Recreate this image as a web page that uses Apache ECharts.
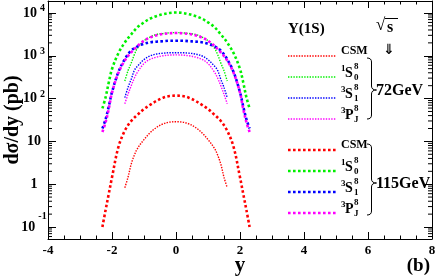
<!DOCTYPE html>
<html><head><meta charset="utf-8">
<script src="https://cdn.jsdelivr.net/npm/echarts@6/dist/echarts.min.js"></script>
<style>html,body{margin:0;padding:0;background:#fff}#c{width:436px;height:278px}</style>
</head><body><div id="c"></div>
<script>
// ---- data ----
const rapidity115 = [-2.3,-2.2,-2.1,-2.0,-1.8,-1.6,-1.4,-1.2,-1.0,-0.8,-0.6,-0.4,-0.2,0,0.2,0.4,0.6,0.8,1.0,1.2,1.4,1.6,1.8,2.0,2.1,2.2,2.3];
const rapidity72  = [-1.6,-1.5,-1.4,-1.3,-1.2,-1.0,-0.8,-0.6,-0.4,-0.2,0,0.2,0.4,0.6,0.8,1.0,1.2,1.3,1.4,1.5,1.6];

const csm115 = [0.10,0.25,0.6,1.45,7.4,17.8,30,42,57,72,89,105,115,117,115,105,89,72,57,42,30,17.8,7.4,1.45,0.6,0.25,0.10];
const s0_115 = [59,107,240,490,1150,2040,3160,4680,6030,7410,8510,9330,10000,10230,10000,9330,8510,7410,6030,4680,3160,2040,1150,490,240,107,59];
const s1_115 = [20,33,66,141,417,830,1320,1660,1900,2070,2140,2190,2240,2240,2240,2190,2140,2070,1900,1660,1320,830,417,141,66,33,20];
const pj_115 = [16.6,28,58,138,400,776,1200,1700,2240,2690,3020,3240,3350,3390,3350,3240,3020,2690,2240,1700,1200,776,400,138,58,28,16.6];

const csm72 = [0.83,1.45,2.95,4.8,6.9,11,16.2,21.4,25.7,28.2,28.8,28.2,25.7,21.4,16.2,11,6.9,4.8,2.95,1.45,0.83];
const s0_72 = [257,447,676,1070,1510,2240,2750,3160,3310,3430,3470,3430,3310,3160,2750,2240,1510,1070,676,447,257];
const s1_72 = [105,182,282,457,575,813,1000,1100,1150,1175,1175,1175,1150,1100,1000,813,575,457,282,182,105];
const pj_72 = [76,126,200,302,417,660,832,933,1000,1035,1047,1035,1000,933,832,660,417,302,200,126,76];

const xTicks = [-4,-2,0,2,4,6,8];
const yDecades = [-1,0,1,2,3,4];
const channels = ['CSM','1S0','3S1','3PJ'];
const energies = ['72GeV','115GeV'];
// --------------------------------------

const FONT = '"Liberation Serif", "DejaVu Serif", serif';
const COLORS = {CSM:'#ff0000','1S0':'#00f000','3S1':'#0000ff','3PJ':'#ff00ff'};
const THIN = {width:1.4, type:[1.4,1.3], cap:'butt'};
const THICK = {width:2.6, type:[2.6,2.4], cap:'butt'};
const XMIN = xTicks[0], XMAX = xTicks[xTicks.length-1];
const YMIN = 0.0525, YMAX = 19000;

function zip(xs, ys){ return xs.map((x,i)=>[x, ys[i]]); }

const seriesDefs = [
  ['CSM 72', csm72, rapidity72, 'CSM', THIN],
  ['1S0 72', s0_72, rapidity72, '1S0', THIN],
  ['3S1 72', s1_72, rapidity72, '3S1', THIN],
  ['3PJ 72', pj_72, rapidity72, '3PJ', THIN],
  ['CSM 115', csm115, rapidity115, 'CSM', THICK],
  ['1S0 115', s0_115, rapidity115, '1S0', THICK],
  ['3S1 115', s1_115, rapidity115, '3S1', THICK],
  ['3PJ 115', pj_115, rapidity115, '3PJ', THICK]
];

const minorVals = [];
for (let n = -2; n <= 4; n++) for (let k = 2; k <= 9; k++) {
  const v = k * Math.pow(10, n);
  if (v > YMIN && v < YMAX) minorVals.push([XMIN, v]);
}

const series = seriesDefs.map(([name, vals, xs, ch, st]) => ({
  name, type:'line', data: zip(xs, vals), showSymbol:false, smooth:0.35,
  silent:true, animation:false,
  lineStyle:{color:COLORS[ch], width:st.width, type:st.type, cap:st.cap}
}));
series.push({
  type:'custom', silent:true, animation:false, clip:false,
  data: minorVals,
  renderItem:(params, api)=>{
    const v = api.value(1);
    const l = api.coord([XMIN, v]), r = api.coord([XMAX, v]);
    return {type:'group', children:[
      {type:'line', shape:{x1:l[0], y1:l[1], x2:l[0]+4, y2:l[1]}, style:{stroke:'#000', lineWidth:1}},
      {type:'line', shape:{x1:r[0], y1:r[1], x2:r[0]-4, y2:r[1]}, style:{stroke:'#000', lineWidth:1}}
    ]};
  }
});

function T(x, y, text, size, align, family){
  return {type:'text', x, y, silent:true,
    style:{text, font:`bold ${size}px ${family||FONT}`, fill:'#000', align:align||'left', verticalAlign:'middle'}};
}
function L(x1,y1,x2,y2,color,st){
  return {type:'line', silent:true, shape:{x1,y1,x2,y2},
    style:{stroke:color, lineWidth:st.width, lineDash:st.type, lineCap:st.cap}};
}
function Q(x1,y1,cx,cy,x2,y2){
  return {type:'bezierCurve', silent:true, shape:{x1,y1,x2,y2,cpx1:cx,cpy1:cy},
    style:{stroke:'#000', fill:null, lineWidth:1}};
}
function brace(top, tip, bot){
  const x0=367, x1=371.5, x2=376.5;
  const plain = {width:1, type:'solid', cap:'butt'};
  return [
    Q(x0,top, x1,top, x1,top+4),
    L(x1,top+4, x1,tip-4,'#000',plain),
    Q(x1,tip-4, x1,tip, x2,tip),
    Q(x2,tip, x1,tip, x1,tip+4),
    L(x1,tip+4, x1,bot-4,'#000',plain),
    Q(x1,bot-4, x1,bot, x0,bot)
  ];
}
function legendGroup(lineYs, st, braceTop, braceTip, braceBot, energy){
  const els = [];
  channels.forEach((ch, i) => {
    const ly = lineYs[i];
    els.push(L(288, ly, 336, ly, COLORS[ch], st));
    if (ch === 'CSM') {
      els.push(T(341, ly-5, 'CSM', 12));
    } else {
      els.push(T(341, ly-8, ch[0], 9));
      els.push(T(345, ly-3.5, ch[1], 14));
      els.push(T(354, ly-10.5, '8', 9));
      els.push(T(354, ly+1, ch[2], 9));
    }
  });
  return els.concat(brace(braceTop, braceTip, braceBot), [T(376, braceTip+1, energy, 16)]);
}

const graphics = [].concat(
  [T(288, 29, 'Υ(1S)', 15),
   T(376, 26, '√', 17),
   T(387, 28, 's', 16),
   {type:'line', silent:true, shape:{x1:385, y1:18.5, x2:398, y2:18.5}, style:{stroke:'#000', lineWidth:1}},
   T(389, 50, '⇓', 14, 'center', '"DejaVu Sans"'),
   T(430, 266, '(b)', 19, 'right')],
  legendGroup([56,77,98,119], THIN, 58, 90, 119, energies[0]),
  legendGroup([150,171,192,213], THICK, 144, 183, 215, energies[1])
);

const yLabel = v => {
  const lg = Math.log10(v), n = Math.round(lg);
  if (!yDecades.includes(n) || Math.abs(lg - n) > 1e-6) return '';
  if (n === 0) return '{b|1}';
  if (n === 1) return '{b|10}';
  if (n < 0) return '{b|10}{m|' + n + '}';
  return '{b|10}{s|' + n + '}';
};

const chart = echarts.init(document.getElementById('c'), null, {renderer:'canvas'});
chart.setOption({
  animation:false,
  backgroundColor:'#fff',
  grid:{left:48, right:4, top:1, bottom:39, containLabel:false, outerBoundsMode:'none'},
  xAxis:[{
    type:'value', min:XMIN, max:XMAX, interval:2, position:'bottom',
    name:'y', nameLocation:'middle', nameGap:16, nameMoveOverlap:false,
    nameTextStyle:{fontFamily:FONT, fontWeight:'bold', fontSize:21, color:'#000'},
    axisLine:{onZero:false, lineStyle:{color:'#000', width:1}},
    axisTick:{inside:true, length:7, lineStyle:{color:'#000'}},
    minorTick:{show:true, splitNumber:4, length:3.5, lineStyle:{color:'#000'}},
    splitLine:{show:false},
    axisLabel:{margin:5, fontFamily:FONT, fontWeight:'bold', fontSize:13, color:'#000'}
  },{
    type:'value', min:XMIN, max:XMAX, interval:2, position:'top',
    axisLine:{onZero:false, lineStyle:{color:'#000', width:1}},
    axisTick:{inside:true, length:7, lineStyle:{color:'#000'}},
    minorTick:{show:true, splitNumber:4, length:3.5, lineStyle:{color:'#000'}},
    splitLine:{show:false}, axisLabel:{show:false}
  }],
  yAxis:[{
    type:'log', logBase:10, min:YMIN, max:YMAX, position:'left',
    name:'dσ/dy (pb)', nameLocation:'middle', nameGap:25, nameRotate:90, nameMoveOverlap:false,
    nameTextStyle:{fontFamily:FONT, fontWeight:'bold', fontSize:20, color:'#000'},
    axisLine:{show:true, onZero:false, lineStyle:{color:'#000', width:1}},
    axisTick:{inside:true, length:8, lineStyle:{color:'#000'}},
    splitLine:{show:false},
    axisLabel:{margin:14, align:'center', showMinLabel:false, showMaxLabel:false,
      formatter:yLabel,
      rich:{
        b:{fontFamily:FONT, fontWeight:'bold', fontSize:14, color:'#000'},
        s:{fontFamily:FONT, fontWeight:'bold', fontSize:10, color:'#000', padding:[0,0,9,3]},
        m:{fontFamily:FONT, fontWeight:'bold', fontSize:10, color:'#000', padding:[0,0,22,3]}
      }}
  },{
    type:'log', logBase:10, min:YMIN, max:YMAX, position:'right',
    axisLine:{show:true, onZero:false, lineStyle:{color:'#000', width:1}},
    axisTick:{inside:true, length:8, lineStyle:{color:'#000'}},
    splitLine:{show:false}, axisLabel:{show:false}
  }],
  series,
  graphic:{elements:graphics}
});
</script></body></html>
